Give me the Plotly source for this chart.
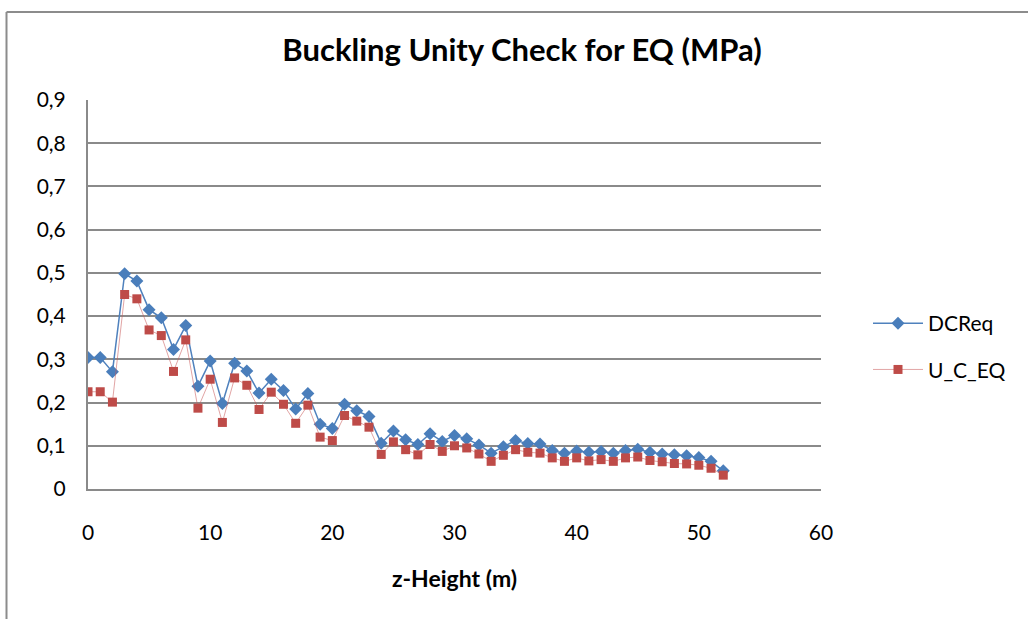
import plotly.graph_objects as go

# z-height stations (m)
z_height = [0, 1, 2, 3, 4, 5, 6, 7, 8, 9, 10, 11, 12, 13, 14, 15, 16, 17, 18, 19,
            20, 21, 22, 23, 24, 25, 26, 27, 28, 29, 30, 31, 32, 33, 34, 35, 36, 37,
            38, 39, 40, 41, 42, 43, 44, 45, 46, 47, 48, 49, 50, 51, 52]

# Buckling unity check values
dc_req = [0.304, 0.304, 0.271, 0.498, 0.481, 0.415, 0.396, 0.323, 0.378, 0.238,
          0.296, 0.198, 0.291, 0.273, 0.222, 0.254, 0.228, 0.185, 0.221, 0.150,
          0.140, 0.196, 0.181, 0.168, 0.106, 0.134, 0.114, 0.103, 0.128, 0.110,
          0.124, 0.116, 0.102, 0.083, 0.098, 0.112, 0.105, 0.104, 0.089, 0.083,
          0.088, 0.085, 0.087, 0.083, 0.089, 0.092, 0.085, 0.081, 0.079, 0.077,
          0.073, 0.064, 0.042]

u_c_eq = [0.225, 0.225, 0.201, 0.450, 0.440, 0.368, 0.355, 0.272, 0.345, 0.187,
          0.254, 0.154, 0.257, 0.240, 0.184, 0.224, 0.196, 0.152, 0.194, 0.120,
          0.112, 0.170, 0.157, 0.143, 0.080, 0.109, 0.091, 0.079, 0.103, 0.087,
          0.100, 0.095, 0.081, 0.064, 0.078, 0.091, 0.085, 0.083, 0.072, 0.064,
          0.072, 0.065, 0.068, 0.064, 0.072, 0.074, 0.066, 0.063, 0.059, 0.058,
          0.055, 0.048, 0.032]

x_ticks = [0, 10, 20, 30, 40, 50, 60]
y_ticks = [0, 0.1, 0.2, 0.3, 0.4, 0.5, 0.6, 0.7, 0.8, 0.9]

FONT = "Lato"
GRID = "#8a8a8a"
FRAME = "#8c8c8c"

fig = go.Figure()
fig.add_trace(go.Scatter(
    x=z_height, y=dc_req, name="DCReq", mode="lines+markers",
    line=dict(color="#4F81BD", width=1.5),
    marker=dict(symbol="diamond", size=10, color="#4A7EBB"),
    legendgroup="a",
))
fig.add_trace(go.Scatter(
    x=z_height, y=u_c_eq, name="U_C_EQ", mode="lines+markers",
    line=dict(color="rgba(200,90,90,0.55)", width=1),
    marker=dict(symbol="square", size=9, color="#BE4B48"),
    legendgroup="b",
))

L, R, T, B = 88, 208, 100, 130
W, H = 1029, 619
pw = W - L - R
ph = H - T - B

def px_x(p):
    return (p - L) / pw

def px_y(p):
    return (H - B - p) / ph

TOP = 12

# chart-area frame: left and top edges (right and bottom fall off the page)
frame = [
    dict(type="line", xref="paper", yref="paper",
         x0=px_x(6.5), x1=px_x(6.5), y0=px_y(H + 20), y1=px_y(TOP),
         line=dict(color=FRAME, width=2)),
    dict(type="line", xref="paper", yref="paper",
         x0=px_x(6.5), x1=px_x(W - 1), y0=px_y(TOP), y1=px_y(TOP),
         line=dict(color=FRAME, width=2)),
]

x_title = dict(
    text="<b>z-Height (m)</b>", xref="paper", yref="paper",
    x=0.5, y=px_y(578), xanchor="center", yanchor="middle",
    showarrow=False, font=dict(family=FONT, size=23, color="black"),
)

fig.update_layout(
    width=W, height=H,
    margin=dict(l=L, r=R, t=T, b=B, pad=0),
    paper_bgcolor="white", plot_bgcolor="white",
    separators=",.",
    font=dict(family=FONT, size=21, color="black"),
    title=dict(
        text="<b>Buckling Unity Check for EQ (MPa)</b>",
        font=dict(family=FONT, size=31, color="black"),
        x=522 / W, xanchor="center", xref="container",
        y=1 - 50 / H, yanchor="middle", yref="container",
    ),
    legend=dict(
        x=px_x(868), xanchor="left",
        y=px_y(303), yanchor="top",
        font=dict(family=FONT, size=21, color="black"),
        itemwidth=50,
        tracegroupgap=16,
        bgcolor="rgba(0,0,0,0)",
    ),
    xaxis=dict(
        range=[0, 60], tickvals=x_ticks, showgrid=False, zeroline=False,
        showline=True, linecolor=GRID, linewidth=2,
        ticks="", ticklabelstandoff=24,
        tickfont=dict(family=FONT, size=21),
    ),
    yaxis=dict(
        range=[0, 0.9], tickvals=y_ticks, tickformat=".1~f",
        showgrid=True, gridcolor=GRID, gridwidth=2, zeroline=False,
        showline=True, linecolor=GRID, linewidth=2,
        ticks="", ticklabelstandoff=16,
        tickfont=dict(family=FONT, size=21),
    ),
    annotations=[x_title],
    shapes=frame,
)

fig.write_html("out.html", config={"displayModeBar": False})
